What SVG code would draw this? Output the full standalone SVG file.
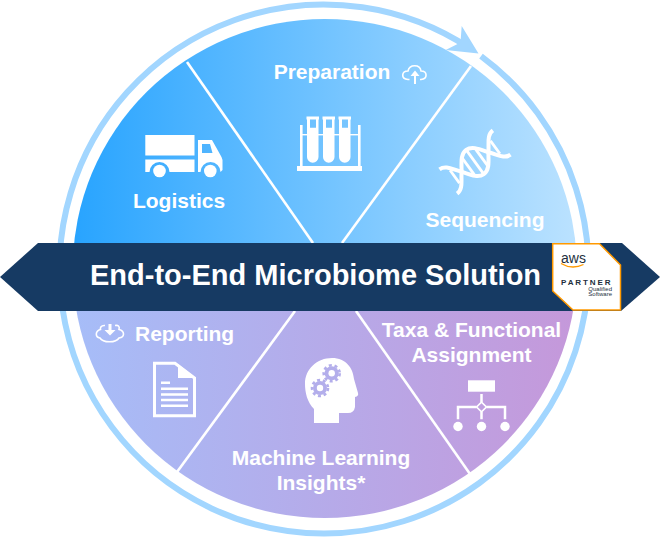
<svg xmlns="http://www.w3.org/2000/svg" width="660" height="537" viewBox="0 0 660 537">
<style>
text{font-family:"Liberation Sans",Arial,sans-serif;font-weight:700;fill:#fff}
.lb{font-size:21px}
.mid{text-anchor:middle}
.ic{fill:#fff;stroke:none}
.ln{fill:none;stroke:#fff;stroke-width:2.5}
.th{fill:none;stroke:#fff;stroke-width:1.6}
.spoke{stroke:#fff;stroke-width:2.6;fill:none}
.dk{fill:#232f3e}
</style>
<defs>
<linearGradient id="gt" gradientUnits="userSpaceOnUse" x1="74" y1="0" x2="576" y2="0"><stop offset="0" stop-color="#28a4ff"/><stop offset="1" stop-color="#bbe2ff"/></linearGradient>
<linearGradient id="gb" gradientUnits="userSpaceOnUse" x1="74" y1="0" x2="576" y2="0"><stop offset="0" stop-color="#a6bdf8"/><stop offset="1" stop-color="#c598da"/></linearGradient>
</defs>
<g id="ring">
<path d="M481 56.140A264.500 264.500 0 0 1 324 533.500A264.500 264.500 0 1 1 470 48.450" fill="none" stroke="#a2d6ff" stroke-width="6"/>
<polygon points="461.700,26 478.500,53.500 445.700,50 460.500,42.500" fill="#a2d6ff"/>
</g>
<g id="pie">
<path d="M72.800 268.500A252 249.500 0 0 1 576.800 268.500Z" fill="url(#gt)"/>
<path d="M72.800 268.500A252 249.500 0 0 0 576.800 268.500Z" fill="url(#gb)"/>
</g>
<g id="connectors">
<line class="spoke" x1="187" y1="62" x2="313" y2="243"/>
<line class="spoke" x1="471" y1="66" x2="342" y2="243"/>
<line class="spoke" x1="295" y1="311" x2="177" y2="472"/>
<line class="spoke" x1="356" y1="311" x2="470" y2="474"/>
</g>
<g id="logistics">
<rect class="ic" x="145.300" y="135" width="49.200" height="20.500"/>
<path class="ic" d="M145.300 159.500H194.500V172H169.500A10 10 0 0 0 149.500 172H145.300Z"/>
<circle class="ic" cx="159.500" cy="171" r="6.300"/>
<path class="ic" fill-rule="evenodd" d="M198 140H212L221.500 157L222.500 160V170L220.500 172A10 10 0 0 0 200.500 172H198ZM202 144V153H212.500L210 144Z"/>
<circle class="ic" cx="210.300" cy="171" r="6.300"/>
<text class="lb mid" x="179" y="208">Logistics</text>
</g>
<g id="preparation">
<text class="lb mid" x="332" y="79">Preparation</text>
<path class="th" d="M409.500 79.500H408C400.500 79 401.500 71 408 71C409.500 64 420 64 421 71C427.500 71 428 79 421 79.500H420"/>
<path class="ic" d="M414 84V76H410.500L415 70.500L419.500 76H416V84Z"/>
<rect class="ic" x="297" y="166" width="65" height="5"/>
<rect class="ic" x="300" y="125" width="2.600" height="42"/>
<rect class="ic" x="358" y="125" width="2.600" height="42"/>
<rect class="ic" x="301" y="134" width="58" height="1.400"/>
<g id="tubes">
<path class="ic" fill-rule="evenodd" d="M306.500 116.500H319V119.500H318.500V157A5.750 5.750 0 0 1 307 157V119.500H306.500ZM310 119.500V127.700H316V119.500Z"/>
<path class="ic" fill-rule="evenodd" d="M322.500 116.500H335V119.500H334.500V157A5.750 5.750 0 0 1 323 157V119.500H322.500ZM326 119.500V127.700H332V119.500Z"/>
<path class="ic" fill-rule="evenodd" d="M338.500 116.500H351V119.500H350.500V157A5.750 5.750 0 0 1 339 157V119.500H338.500ZM342 119.500V127.700H348V119.500Z"/>
</g>
</g>
<g id="sequencing">
<g transform="translate(475 162) rotate(-36)" fill="none" stroke="#fff">
<path stroke-width="4" d="M-33 15C-25 15-22 6-16.500 0C-11-8-7-15 0-15C7-15 11-8 16.500 0C22 6 25 15 33 15"/>
<path stroke-width="4" d="M-33-15C-25-15-22-6-16.500 0C-11 8-7 15 0 15C7 15 11 8 16.500 0C22-6 25-15 33-15"/>
<path stroke-width="2.800" d="M-8-11V11M0-14V14M8-11V11M-25-8V8M25-8V8"/>
</g>
<text class="lb mid" x="485" y="227">Sequencing</text>
</g>
<g id="reporting">
<path class="th" d="M105 325.500C101 325 100 328 100.500 329.500C95 331 95 337 100 338C103 343 116 343 119 338C125 337 125 331 119 329.500C120 326 118 325 115 325.500"/>
<path class="ic" d="M108.500 324H111.500V330H115.500L110 335.500L104.500 330H108.500Z"/>
<text class="lb" x="135" y="341">Reporting</text>
<path fill="none" stroke="#fff" stroke-width="3" d="M154.500 363.200H175L194.500 378V415.800H154.500Z"/>
<path class="ic" d="M178 364L196 378H178Z"/>
<path class="ln" d="M161 382.700H170M161 388.700H188M161 394.500H188M161 400H188M161 405.700H188"/>
</g>
<g id="ml">
<path class="ic" d="M314 423V409C307 402 305 392 305 384C305 369 317 358 332 358C346 358 353 368 354 379L358 393Q359 396 355 397V407Q354 413 348 413H339V423Z"/>
<g fill="#b3aeeb" stroke="none">
<circle cx="331.700" cy="373.300" r="7"/>
<circle cx="320" cy="388" r="7"/>
</g>
<g fill="none" stroke="#b3aeeb" stroke-width="2.600" stroke-dasharray="3 2.760">
<circle cx="331.700" cy="373.300" r="8"/>
<circle cx="320" cy="388" r="8"/>
</g>
<circle class="ic" cx="331.700" cy="373.300" r="3.200"/>
<circle class="ic" cx="320" cy="388" r="3.200"/>
<text class="lb mid" x="321" y="465">Machine Learning</text>
<text class="lb mid" x="321" y="490">Insights*</text>
</g>
<g id="taxa">
<text class="lb mid" x="471.500" y="337">Taxa &amp; Functional</text>
<text class="lb mid" x="471.500" y="362">Assignment</text>
<rect class="ic" x="468" y="380.300" width="27" height="11.400"/>
<path class="ln" d="M481.500 394V402M476.500 407H458V419.300M486.500 407H505V419.300M481.500 412V419.300"/>
<rect x="-3.500" y="-3.500" width="7" height="7" transform="translate(481.500 407) rotate(45)" fill="none" stroke="#fff" stroke-width="1.600"/>
<circle class="ic" cx="458" cy="426.500" r="4.700"/>
<circle class="ic" cx="481.500" cy="426.500" r="4.700"/>
<circle class="ic" cx="505" cy="426.500" r="4.700"/>
</g>
<g id="banner">
<polygon points="0,277 38,243 622,243 660,277 621,311 38,311" fill="#163a63"/>
<text x="90" y="285" font-size="29">End-to-End Microbiome Solution</text>
</g>
<g id="aws-badge">
<polygon points="552.700,243.700 599.500,243.700 620.500,265 620.500,310 573,310 552.700,291" fill="#fff" stroke="#f90" stroke-width="1.500"/>
<text class="dk" x="561" y="263" font-size="14" style="font-weight:400">aws</text>
<path d="M561 263.500Q572 270 583.500 264.500" fill="none" stroke="#f90" stroke-width="1.300"/>
<text class="dk" x="561" y="285" font-size="8" letter-spacing="1.900">PARTNER</text>
<text class="dk" x="612" y="290.500" font-size="6" text-anchor="end" style="font-weight:400">Qualified</text>
<text class="dk" x="612" y="296" font-size="6" text-anchor="end" style="font-weight:400">Software</text>
</g>
</svg>
